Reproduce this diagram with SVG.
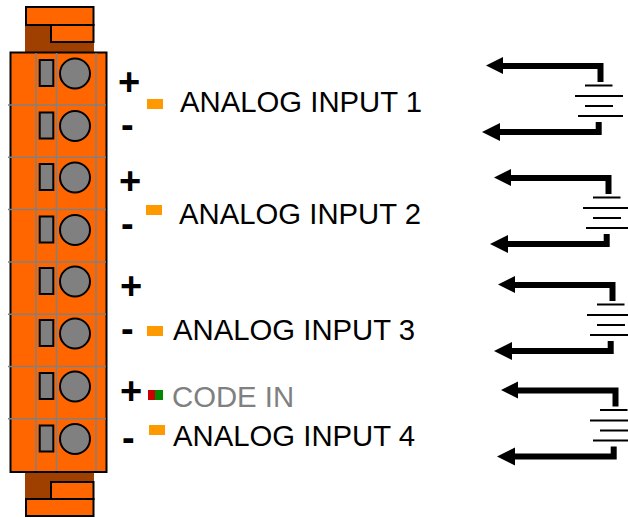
<svg xmlns="http://www.w3.org/2000/svg" xmlns:xlink="http://www.w3.org/1999/xlink" width="628" height="518" viewBox="0 0 628 518">
<style>
text{font-family:"Liberation Sans",Arial,sans-serif;fill:#000}
.lab{font-size:29.300px}
.sign{font-size:38px;font-weight:bold}
.or{fill:#f60;stroke:#000;stroke-width:2}
.br{fill:#a04000}
.gl{stroke:#808080;stroke-width:1.500;fill:none}
.sq{fill:#808080;stroke:#000;stroke-width:2}
.w{fill:none;stroke:#000;stroke-width:6}
.p{stroke:#000;stroke-width:2.200}
.led{fill:#f90}
</style>
<defs>
<g id="term"><rect class="sq" x="39.700" y="60" width="13.600" height="26"/><circle class="sq" cx="75" cy="73.500" r="15"/></g>
<g id="bat">
<path class="w" d="M600.500 82V66H500"/><path d="M486 65.500L503 57V74Z"/>
<path class="w" d="M598.700 122V132H498"/><path d="M482 132L500 123V141Z"/>
<path class="p" d="M585 85.500H612.500M575 96H623M585 106H613M578 116H623"/>
</g>
</defs>
<g id="connector-body">
<rect class="br" x="25" y="7" width="69" height="45"/>
<rect class="or" x="26" y="7" width="67.500" height="18"/>
<rect class="or" x="51" y="25" width="42.500" height="17"/>
<rect class="br" x="25" y="472" width="69" height="45"/>
<rect class="or" x="51" y="482" width="42.500" height="17"/>
<rect class="or" x="26" y="499" width="67.500" height="17"/>
<rect class="or" x="10.500" y="52.500" width="96" height="419.500"/>
<path class="gl" d="M36 53V471M56.500 53V471M96 53V471M8 105H106M8 157.300H106M8 209.600H106M8 262H106M8 314.200H106M8 366.500H106M8 418.800H106"/>
</g>
<g id="terminal-1"><use xlink:href="#term"/></g>
<g id="terminal-2"><use xlink:href="#term" y="52.500"/></g>
<g id="terminal-3"><use xlink:href="#term" y="104"/></g>
<g id="terminal-4"><use xlink:href="#term" y="156.500"/></g>
<g id="terminal-5"><use xlink:href="#term" y="208"/></g>
<g id="terminal-6"><use xlink:href="#term" y="260"/></g>
<g id="terminal-7"><use xlink:href="#term" y="313"/></g>
<g id="terminal-8"><use xlink:href="#term" y="365.500"/></g>
<g id="labels">
<text class="sign" x="118" y="95">+</text><text class="sign" x="121" y="138">-</text>
<text class="sign" x="119" y="194">+</text><text class="sign" x="121" y="237">-</text>
<text class="sign" x="120" y="299">+</text><text class="sign" x="121" y="342">-</text>
<text class="sign" x="120" y="404">+</text><text class="sign" x="122" y="451">-</text>
<rect class="led" x="147" y="99" width="16" height="10"/>
<rect class="led" x="146" y="205" width="16" height="10"/>
<rect class="led" x="147" y="326" width="16" height="10"/>
<rect class="led" x="149" y="425" width="16" height="10"/>
<rect x="148" y="390" width="8" height="10" fill="#c00"/><rect x="155" y="390" width="8" height="10" fill="#080"/>
<text class="lab" x="180" y="112">ANALOG INPUT 1</text>
<text class="lab" x="179" y="224">ANALOG INPUT 2</text>
<text class="lab" x="173" y="340">ANALOG INPUT 3</text>
<text class="lab" x="172" y="407" style="fill:#808080">CODE IN</text>
<text class="lab" x="173" y="446">ANALOG INPUT 4</text>
</g>
<g id="connectors">
<use xlink:href="#bat"/>
<use xlink:href="#bat" x="8" y="112"/>
<use xlink:href="#bat" x="12" y="219"/>
<use xlink:href="#bat" x="15" y="324.500"/>
</g>
</svg>
